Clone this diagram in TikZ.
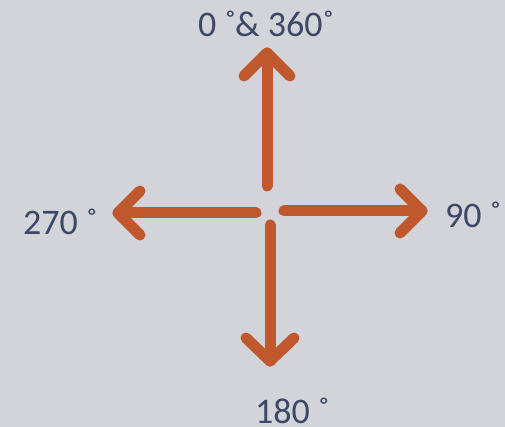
\documentclass[tikz,border=0pt]{standalone}
\usepackage{fontspec}
\setmainfont{Carlito}
\definecolor{bg}{HTML}{D3D4D9}
\definecolor{arr}{HTML}{BF582D}
\definecolor{txt}{HTML}{3B4866}
\begin{document}
\begin{tikzpicture}[x=1pt,y=-1pt,
  shaft/.style={draw=arr,line width=11pt,line cap=round,line join=round},
  lbl/.style={text=txt,font=\fontsize{36}{40}\selectfont,inner sep=0pt,anchor=base west}]
\fill[bg] (0,0) rectangle (505,427);
\useasboundingbox (0,0) rectangle (505,427);
% centre points
\coordinate (c1) at (267,186);
\coordinate (c2) at (284,211);
\coordinate (c3) at (256,213);
\coordinate (c4) at (270,225);
% tips
\coordinate (tu) at (267,53);
\coordinate (tr) at (422,211);
\coordinate (tl) at (118,213);
\coordinate (td) at (270,361);
% up
\draw[shaft] (c1) -- (tu);
\draw[shaft] (244,76) -- (tu) -- (290,76);
% right
\draw[shaft] (c2) -- (tr);
\draw[shaft] (400,189) -- (tr) -- (400,233);
% left
\draw[shaft] (c3) -- (tl);
\draw[shaft] (140,191) -- (tl) -- (140,235);
% down
\draw[shaft] (c4) -- (td);
\draw[shaft] (246,338) -- (td) -- (294,338);
% labels
\node[lbl] (l0) at (198,37) {0 ˚\kern-1pt\& 360˚};
\node[lbl] (l90) at (445,228) {90 ˚};
\node[lbl] (l270) at (23,235) {270 ˚};
\node[lbl] (l180) at (255,423) {180 ˚};
\end{tikzpicture}
\end{document}
